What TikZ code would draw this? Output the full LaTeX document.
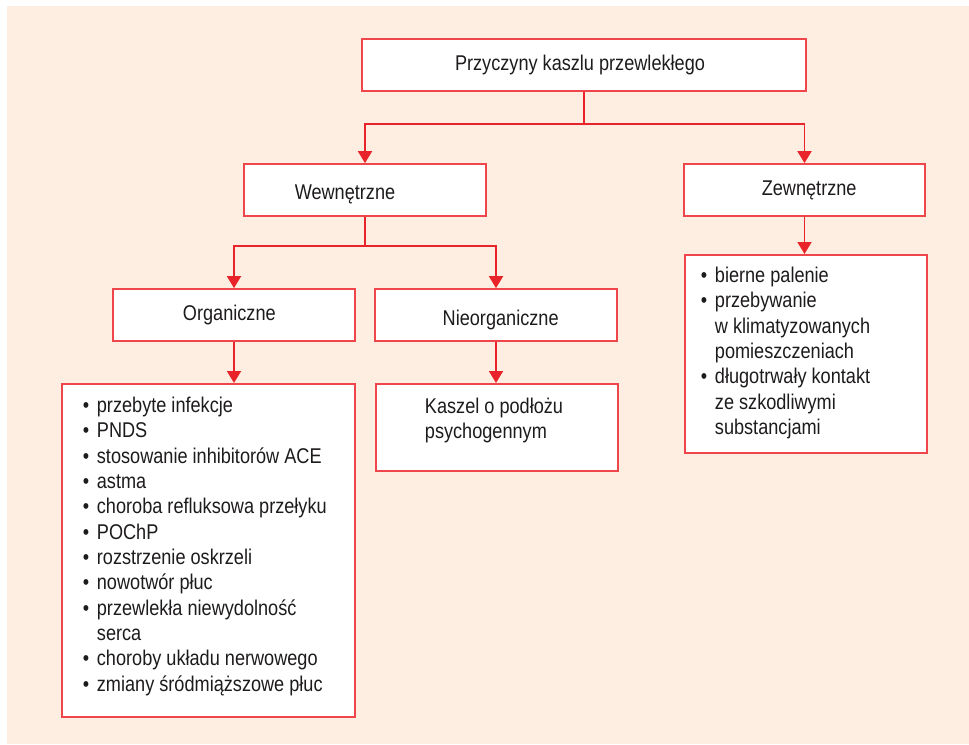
\documentclass[tikz,border=0pt]{standalone}
\usepackage{fontspec}
\setmainfont{Liberation Sans}[FakeStretch=0.85]
\usetikzlibrary{arrows.meta}
\definecolor{peach}{RGB}{253,238,225}
\definecolor{boxred}{RGB}{238,70,74}
\definecolor{linered}{RGB}{232,36,42}
\definecolor{inkgray}{RGB}{30,27,28}
\newcommand{\itm}[1]{\makebox[10.5pt][l]{\textbullet}#1}
\newcommand{\cnt}[1]{\hspace*{10.5pt}#1}
\newcommand{\sinktext}[1]{\raisebox{-3.5pt}[\height][\depth]{#1}}
\begin{document}
\begin{tikzpicture}[x=0.75pt,y=-0.75pt,line width=1.4pt,->,>={Triangle[width=10.5pt,length=9pt]}]
		\tikzstyle{unit}=[draw=boxred,fill=white,line width=1.3pt,minimum height=39pt,minimum width=181.5pt,text=inkgray,font=\fontsize{16pt}{19pt}\selectfont]
		\tikzstyle{listbox}=[draw=boxred,fill=white,line width=1.3pt,anchor=north west]
		\tikzstyle{items}=[anchor=north west,inner sep=0pt,align=left,text=inkgray,font=\fontsize{16pt}{19pt}\selectfont]
		\tikzstyle{link}=[draw=linered]

		\useasboundingbox (0,0) rectangle (969,744);
		\fill[peach] (7,6) rectangle (969,744);

		\node[unit,minimum width=333pt](causes) at (584,65){\hspace*{-6pt}Przyczyny kaszlu przewlekłego};
		\node[unit](inner) at (365,190){\hspace*{-30pt}\sinktext{Wewnętrzne}};
		\node[unit,minimum width=180.75pt](outer) at (804.5,190){\hspace*{7pt}Zewnętrzne};
		\node[unit](organic) at (234,315){\hspace*{-7pt}Organiczne};
		\node[unit](inorganic) at (496,315){\hspace*{7pt}\sinktext{Nieorganiczne}};

		\node[listbox,minimum width=219.75pt,minimum height=249.75pt](orglist) at (61,383){};
		\node[items](orgitems) at (82,396){\itm{przebyte infekcje}\\
			\itm{PNDS}\\
			\itm{stosowanie inhibitorów ACE}\\
			\itm{astma}\\
			\itm{choroba refluksowa przełyku}\\
			\itm{POChP}\\
			\itm{rozstrzenie oskrzeli}\\
			\itm{nowotwór płuc}\\
			\itm{przewlekła niewydolność}\\
			\cnt{serca}\\
			\itm{choroby układu nerwowego}\\
			\itm{zmiany śródmiąższowe płuc}};

		\node[listbox,minimum width=181.5pt,minimum height=65.25pt](psychbox) at (375,383){};
		\node[items](psychtext) at (424,397){Kaszel o podłożu\\psychogennym};

		\node[listbox,minimum width=181.5pt,minimum height=148.5pt](outlist) at (684,254){};
		\node[items](outitems) at (700,266){\itm{bierne palenie}\\
			\itm{przebywanie}\\
			\cnt{w klimatyzowanych}\\
			\cnt{pomieszczeniach}\\
			\itm{długotrwały kontakt}\\
			\cnt{ze szkodliwymi}\\
			\cnt{substancjami}};

		\coordinate (split1) at (584,124);
		\coordinate (split2) at (365,246);
		\draw[link,-] (causes) -- (split1);
		\draw[link] (split1) -| (inner.north);
		\draw[link] (split1) -| (outer.north);
		\draw[link,-] (inner) -- (split2);
		\draw[link] (split2) -| (organic.north);
		\draw[link] (split2) -| (inorganic.north);
		\draw[link] (organic) -- (organic.south |- orglist.north);
		\draw[link] (inorganic) -- (inorganic.south |- psychbox.north);
		\draw[link] (outer) -- (outer.south |- outlist.north);
	\end{tikzpicture}
\end{document}
